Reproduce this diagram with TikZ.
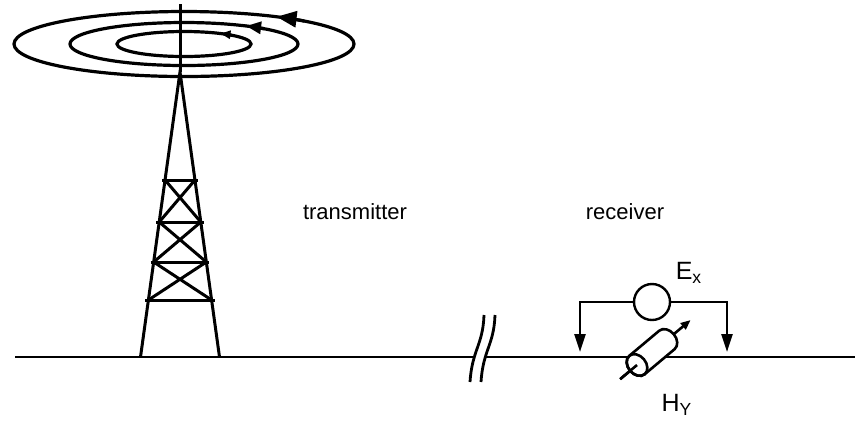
\documentclass[tikz,border=0pt]{standalone}
\usepackage{fontspec}
\setmainfont{Liberation Sans}
\usetikzlibrary{arrows.meta}
\tikzset{
  wire/.style = {line width=1.2pt},
  tower/.style = {line width=1.5pt},
  label/.style = {font=\fontsize{11}{13}\selectfont, inner sep=0pt},
  field/.style = {font=\fontsize{12.5}{15}\selectfont, inner sep=0pt}
}
\begin{document}
\begin{tikzpicture}[x=0.5pt,y=-0.5pt]
\useasboundingbox (0,0) rectangle (855,425);
% ground with a break in it
\draw[wire] (15,357) -- (475,357);
\draw[wire] (485,357) -- (855,357);
\draw[line width=1.4pt] (484,315) .. controls (483,345) and (472,350) .. (470,382);
\draw[line width=1.4pt] (495,315) .. controls (494,345) and (483,350) .. (481,382);
% mast and tower
\draw[tower] (180,4) -- (180,72);
\draw[tower] (140.5,357) -- (180,72) -- (219.5,357);
\foreach \y in {180,222,262,300} {
  \pgfmathsetmacro\dx{39.5*(\y-72)/285}
  \draw[tower] (180-\dx-3,\y) -- (180+\dx+3,\y);
}
\foreach \ya/\yb in {180/222,222/262,262/300} {
  \pgfmathsetmacro\da{39.5*(\ya-72)/285}
  \pgfmathsetmacro\db{39.5*(\yb-72)/285}
  \draw[tower] (180-\da,\ya) -- (180+\db,\yb) (180+\da,\ya) -- (180-\db,\yb);
}
% field rings
\foreach \rx/\ry/\al/\aw in {67/12.5/5/4, 114/21.5/7.5/6, 170/32.5/10/8} {
  \draw[line width=1.6pt] (184,44) ellipse [x radius=\rx, y radius=\ry];
  \draw[line width=1.6pt, -{Triangle[length=\al pt, width=\aw pt]}] ({184+\rx*cos(-45)},{44+\ry*sin(-45)})
    arc [start angle=-45, end angle=-57, x radius=\rx, y radius=\ry];
}
% labels
\node[label] (tx) at (355,212) {transmitter};
\node[label] (rx) at (625,212) {receiver};
\node[field] (ex) at (689,273) {E\textsubscript{x}};
\node[field] (hy) at (677,405) {H\textsubscript{Y}};
% electric field probe
\node[draw, circle, wire, minimum size=18pt, inner sep=0pt] (meter) at (652,302) {};
\coordinate (lprobe) at (580,352);
\coordinate (rprobe) at (727,352);
\draw[wire, -{Triangle[length=9pt, width=5.5pt]}] (meter.west) -| (lprobe);
\draw[wire, -{Triangle[length=9pt, width=5.5pt]}] (meter.east) -| (rprobe);
% magnetic coil
\begin{scope}[shift={(637,365)}, rotate=40, line width=1.3pt]
  \draw[-{Triangle[length=5pt, width=4pt]}] (-22,0) -- (70,0);
  \draw[fill=white] (0,12) -- (39,12) arc [start angle=90, end angle=-90, x radius=9, y radius=12]
    -- (0,-12) arc [start angle=-90, end angle=-270, x radius=9, y radius=12] -- cycle;
  \draw (0,0) ellipse [x radius=9, y radius=12];
  \draw (-22,0) -- (0,0);
\end{scope}
\end{tikzpicture}
\end{document}
